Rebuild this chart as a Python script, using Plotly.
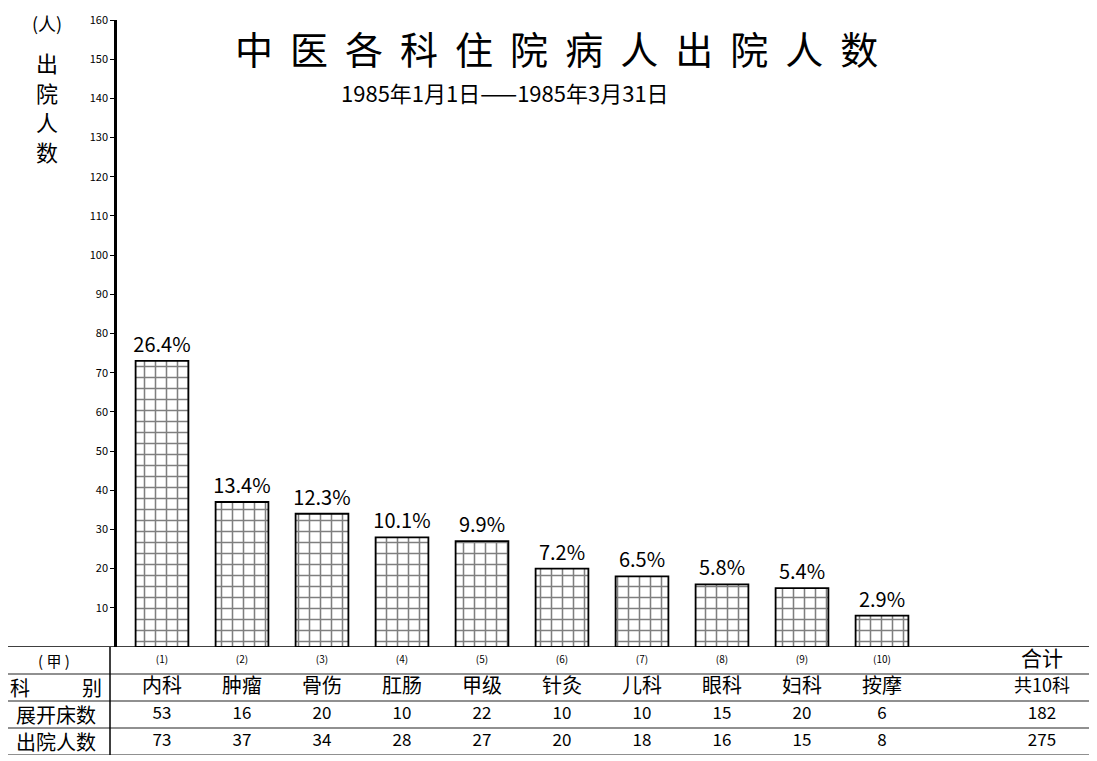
import plotly.graph_objects as go

# data
seq_labels = ["(1)", "(2)", "(3)", "(4)", "(5)", "(6)", "(7)", "(8)", "(9)", "(10)"]
departments = ["内科", "肿瘤", "骨伤", "肛肠", "甲级", "针灸", "儿科", "眼科", "妇科", "按摩"]
beds = [53, 16, 20, 10, 22, 10, 10, 15, 20, 6]
discharged = [73, 37, 34, 28, 27, 20, 18, 16, 15, 8]
pct_labels = ["26.4%", "13.4%", "12.3%", "10.1%", "9.9%", "7.2%", "6.5%", "5.8%", "5.4%", "2.9%"]
total_head = "合计"
total_name = "共10科"
total_beds = 182
total_discharged = 275
y_ticks = list(range(10, 170, 10))

FONT = "Noto Sans CJK SC"
OFF = 8                      # page body margin
W, H = 1097 - OFF, 761 - OFF
TOP, BOTTOM = 20 - OFF, 6
paper_h = H - TOP - BOTTOM
split = (H - BOTTOM - (647 - OFF)) / paper_h   # bottom of the bar area


def py(px):
    # page pixel row -> paper y
    return (H - BOTTOM - (px - OFF)) / paper_h


def pxx(px):
    # page pixel column -> paper x
    return (px - OFF) / W


xs = list(range(1, len(departments) + 1))
total_x = 12

fig = go.Figure()

fig.add_trace(go.Bar(
    x=xs, y=discharged, width=0.66,
    marker=dict(color="white", line=dict(color="black", width=1.8),
                pattern=dict(shape="+", fgcolor="black", bgcolor="white",
                             size=11, solidity=0.26)),
    text=pct_labels, textposition="outside", constraintext="none",
    textfont=dict(family=FONT, size=20, color="black"),
    cliponaxis=False, showlegend=False, hoverinfo="skip",
))

# table rows, drawn on the lower axis
rows = [
    (seq_labels + [total_head], 0.5, [10] * 10 + [21]),
    (departments + [total_name], 1.5, [20] * 10 + [18]),
    ([str(v) for v in beds] + [str(total_beds)], 2.5, [17] * 11),
    ([str(v) for v in discharged] + [str(total_discharged)], 3.5, [17] * 11),
]
for texts, yrow, sizes in rows:
    fig.add_trace(go.Scatter(
        x=xs + [total_x], y=[yrow] * len(texts), text=texts, mode="text",
        textfont=dict(family=FONT, size=sizes, color="black"),
        yaxis="y2", showlegend=False, hoverinfo="skip",
    ))

shapes = [dict(type="line", xref="paper", yref="y", x0=0, x1=1, y0=0, y1=0,
               line=dict(color="black", width=1.5))]
for yl in [1, 2, 3, 4]:
    shapes.append(dict(type="line", xref="paper", yref="y2", x0=0, x1=1, y0=yl, y1=yl,
                       line=dict(color="#222", width=1.2)))
shapes.append(dict(type="line", xref="paper", yref="y2", x0=pxx(110), x1=pxx(110),
                   y0=0, y1=4, line=dict(color="black", width=1.5)))


def note(text, x, y, size, yref="paper"):
    return dict(text=text, xref="paper", yref=yref, x=x, y=y, xanchor="center",
                yanchor="middle", showarrow=False, font=dict(family=FONT, size=size))


annotations = [
    note("(\u00a0甲\u00a0)", pxx(54), 0.5, 15, "y2"),
    note("科", pxx(20), 1.5, 20, "y2"),
    note("别", pxx(92), 1.5, 20, "y2"),
    note("展开床数", pxx(56), 2.5, 20, "y2"),
    note("出院人数", pxx(56), 3.5, 20, "y2"),
    note("\u00a0\u00a0".join("中医各科住院病人出院人数"), pxx(556), py(48), 38),
    note("1985年1月1日——1985年3月31日", pxx(505), py(92), 22),
    note("(人)", pxx(47), py(23), 18),
]
# vertical axis title, one character per line
for i, ch in enumerate("出院人数"):
    annotations.append(note(ch, pxx(47), py(62 + 29.5 * i), 22))

fig.update_layout(
    width=W, height=H,
    margin=dict(l=0, r=0, t=TOP, b=BOTTOM),
    paper_bgcolor="white", plot_bgcolor="white",
    font=dict(family=FONT, color="black"),
    xaxis=dict(domain=[(117 - OFF) / W, 1], range=[0.4375, 12.6875], visible=False,
               showgrid=False, zeroline=False),
    yaxis=dict(domain=[split, 1], range=[0, 160], tickvals=y_ticks,
               showline=True, linecolor="black", linewidth=2.5,
               ticks="outside", ticklen=4, tickcolor="black",
               tickfont=dict(family=FONT, size=11), showgrid=False, zeroline=False),
    yaxis2=dict(domain=[0, split], range=[4, 0], visible=False, anchor="x",
                showgrid=False, zeroline=False),
    shapes=shapes,
    annotations=annotations,
    bargap=0.3,
)

fig.write_html("out.html")
